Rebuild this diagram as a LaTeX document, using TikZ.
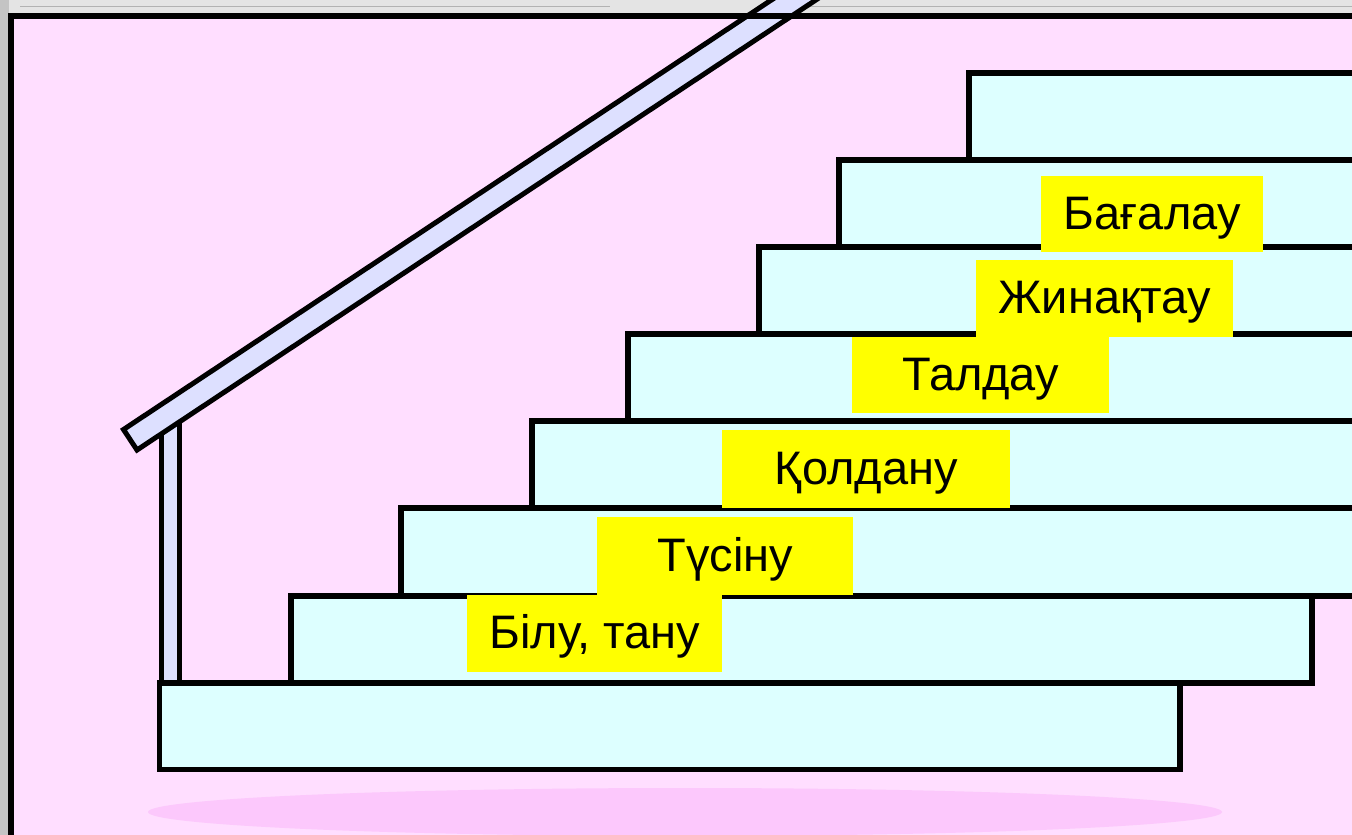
\documentclass[tikz,border=0pt]{standalone}
\usepackage{fontspec}
\usetikzlibrary{calc}
\setmainfont{Liberation Sans}
\definecolor{bgpink}{RGB}{255,222,255}
\definecolor{stepfill}{RGB}{221,255,255}
\definecolor{railfill}{RGB}{221,224,255}
\definecolor{shadowpink}{RGB}{252,200,252}
\definecolor{outergrey}{RGB}{228,228,228}
\definecolor{leftgrey}{RGB}{196,196,196}
\definecolor{labelyellow}{RGB}{255,255,0}
\tikzset{
  stepbox/.style={draw=black, line width=5.5pt, fill=stepfill},
  railpart/.style={draw=black, line width=5pt, fill=railfill, line join=miter},
  label/.style={fill=labelyellow, inner sep=0pt, text height=33pt, text depth=3pt,
    font=\fontsize{47}{56}\selectfont, anchor=north west}
}
\begin{document}
\begin{tikzpicture}[x=1pt,y=-1pt]
\useasboundingbox (0,0) rectangle (1352,835);
\clip (0,0) rectangle (1352,835);
% outside of frame
\fill[outergrey] (0,0) rectangle (1352,835);
\fill[leftgrey] (0,0) rectangle (9,835);
\draw[gray!60, line width=1pt] (20,6) -- (610,6);
\draw[gray!60, line width=1pt] (785,6) -- (1352,6);
% slide area
\fill[bgpink] (10.5,15.5) rectangle (1400,900);
% shadow
\fill[shadowpink] (685,812) ellipse [x radius=537, y radius=24];
% post
\draw[railpart] (161.5,420) rectangle (179.5,683);
% rail
\coordinate (A) at (123.5,429.5);
\coordinate (B) at (137,450);
\coordinate (C) at ($(B)+(708.5,-469.7)$);
\coordinate (D) at ($(A)+(708.5,-469.7)$);
\draw[railpart] (A) -- (B) -- (C) -- (D) -- cycle;
% steps
\draw[stepbox] (969,73) rectangle (1400,160);
\draw[stepbox] (839,160) rectangle (1400,247);
\draw[stepbox] (759,247) rectangle (1400,334);
\draw[stepbox] (628,334) rectangle (1400,421);
\draw[stepbox] (532,421) rectangle (1400,508);
\draw[stepbox] (401,508) rectangle (1400,596);
\draw[stepbox] (291,596) rectangle (1312,683);
\draw[stepbox] (159.5,683) rectangle (1180,769.5);
% frame
\draw[black, line width=6pt] (10.5,900) -- (10.5,15.5) -- (1400,15.5);
% labels
\node[label, minimum width=222pt, minimum height=76pt] (l6) at (1041,176) {Бағалау};
\node[label, minimum width=257pt, minimum height=77pt] (l5) at (976,260) {Жинақтау};
\node[label, minimum width=257pt, minimum height=76pt] (l4) at (852,337) {Талдау};
\node[label, minimum width=288pt, minimum height=78pt] (l3) at (722,430) {Қолдану};
\node[label, minimum width=256pt, minimum height=78pt] (l2) at (597,517) {Түсіну};
\node[label, minimum width=255pt, minimum height=77pt] (l1) at (467,595) {Білу, тану};
\end{tikzpicture}
\end{document}
